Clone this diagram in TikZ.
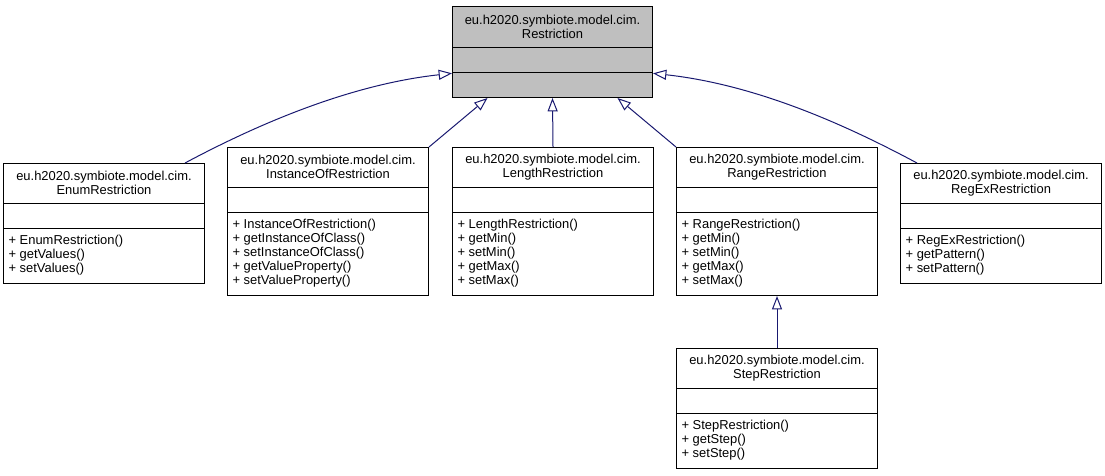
\documentclass[tikz,border=0pt]{standalone}
\usepackage{fontspec}
\setmainfont{Liberation Sans}
\usetikzlibrary{arrows.meta}

\definecolor{edgeblue}{HTML}{191970}
\definecolor{basegray}{HTML}{BFBFBF}

\tikzset{
  classbox/.style={draw=black, line width=0.75pt, fill=white, anchor=north west,
    minimum width=150.75pt, inner sep=0pt},
  classtitle/.style={align=center, inner sep=0pt, font=\fontsize{9.7}{10.5}\selectfont},
  classops/.style={align=left, anchor=west, inner sep=0pt, font=\fontsize{9.7}{10.5}\selectfont},
  inherit/.style={draw=edgeblue, line width=0.75pt, {Triangle[open, length=10pt, width=7.5pt]}-}
}

% class box: name, left x, top y, number of operations, class name, operations
\newcommand{\umlclass}[6]{%
  \pgfmathsetmacro{\boxh}{(78+14*#4)*0.75}
  \pgfmathsetmacro{\opsoff}{(14*#4+13)/2*0.75+1}
  \node[classbox, minimum height=\boxh pt] (#1) at (#2,#3) {};
  \draw[line width=0.75pt] (#1.north west) ++(0,40) -- ++(201,0) ++(-201,25) -- ++(201,0);
  \node[classtitle] (#1-title) at ([yshift=-15pt]#1.north) {eu.h2020.symbiote.model.cim.\\#5};
  \node[classops] (#1-ops) at ([xshift=4pt, yshift=\opsoff pt]#1.south west) {#6};
}

\begin{document}
\begin{tikzpicture}[x=0.75pt, y=-0.75pt]
  \useasboundingbox (0,0) rectangle (1105,475);

  % base class
  \node[classbox, fill=basegray, minimum width=150pt, minimum height=68.25pt] (restr) at (452,6) {};
  \draw[line width=0.75pt] (restr.north west) ++(0,41) -- ++(200,0) ++(-200,25) -- ++(200,0);
  \node[classtitle] (restr-title) at ([yshift=-15.5pt]restr.north) {eu.h2020.symbiote.model.cim.\\Restriction};

  % subclasses
  \umlclass{enum}{3}{163}{3}{EnumRestriction}{+ EnumRestriction()\\+ getValues()\\+ setValues()}
  \umlclass{inst}{227}{147}{5}{InstanceOfRestriction}{+ InstanceOfRestriction()\\+ getInstanceOfClass()\\+ setInstanceOfClass()\\+ getValueProperty()\\+ setValueProperty()}
  \umlclass{len}{452}{147}{5}{LengthRestriction}{+ LengthRestriction()\\+ getMin()\\+ setMin()\\+ getMax()\\+ setMax()}
  \umlclass{range}{676}{147}{5}{RangeRestriction}{+ RangeRestriction()\\+ getMin()\\+ setMin()\\+ getMax()\\+ setMax()}
  \umlclass{regex}{900}{163}{3}{RegExRestriction}{+ RegExRestriction()\\+ getPattern()\\+ setPattern()}
  \umlclass{step}{676}{348}{3}{StepRestriction}{+ StepRestriction()\\+ getStep()\\+ setStep()}

  % generalisations
  \draw[inherit] ([yshift=-16pt]restr.west) .. controls +(-110,12) and +(60,-32) .. ([xshift=-15pt]enum.north east);
  \draw[inherit] ([xshift=-48.75pt]restr.south) -- (inst.north east);
  \draw[inherit] (restr.south) -- (len.north);
  \draw[inherit] ([xshift=48.75pt]restr.south) -- (range.north west);
  \draw[inherit] ([yshift=-16pt]restr.east) .. controls +(110,12) and +(-60,-32) .. ([xshift=12.75pt]regex.north west);
  \draw[inherit] (range.south) -- (step.north);
\end{tikzpicture}
\end{document}
